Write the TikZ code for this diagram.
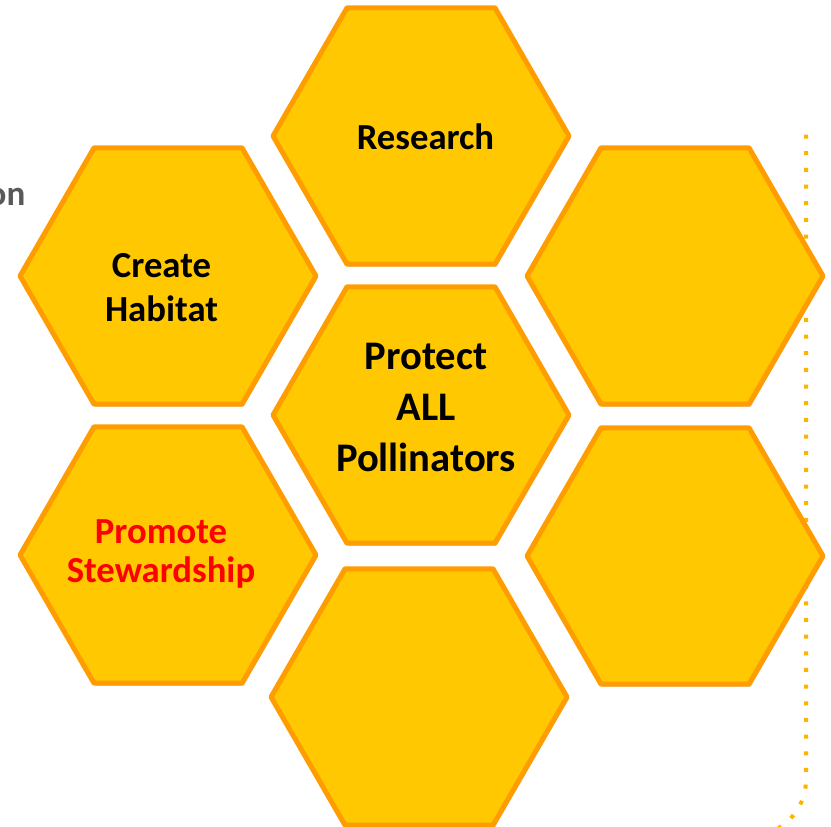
\documentclass[tikz,border=0pt]{standalone}
\usepackage{fontspec}
\setmainfont{Carlito}
\usetikzlibrary{shapes.geometric,shadows}
\definecolor{hexfill}{HTML}{FFC800}
\definecolor{hexline}{HTML}{FF9C00}
\definecolor{dotcol}{HTML}{FFB300}
\definecolor{graytxt}{HTML}{595959}
\definecolor{redtxt}{HTML}{FF0000}
\tikzset{
  hexa/.style={regular polygon, regular polygon sides=6,
    minimum size=296pt, inner sep=0pt, fill=hexfill, draw=hexline, line width=5pt,
    line join=round,
    drop shadow={shadow xshift=1.5pt, shadow yshift=-2.5pt, opacity=0.22, fill=black}},
  lbl/.style={anchor=base, inner sep=0pt, font=\bfseries\fontsize{36.7}{44}\selectfont},
  lblbig/.style={anchor=base, inner sep=0pt, font=\bfseries\fontsize{40.6}{49}\selectfont},
  dotline/.style={draw=dotcol, line width=4pt, dash pattern=on 4pt off 12.67pt}
}
\begin{document}
\begin{tikzpicture}[x=1pt,y=-1pt]
\useasboundingbox (0,0) rectangle (831,827);
% dotted line behind the hexagons
\coordinate (dtop) at (806,134.5);
\coordinate (dturn) at (806,780);
\coordinate (dend) at (775.2,830);
\draw[dotline] (dtop) -- (dturn) .. controls (806,801) and (794,820.4) .. (dend);
% cut-off text at left
\node[anchor=base east, inner sep=0pt, text=graytxt, font=\bfseries\fontsize{35}{42}\selectfont] (on) at (25.5,205) {on};
% hexagons
\node[hexa] (research) at (421,136) {};
\node[hexa] (habitat) at (168,276) {};
\node[hexa] (righttop) at (675,276) {};
\node[hexa] (protect) at (421,415) {};
\node[hexa] (steward) at (168,555) {};
\node[hexa] (rightbot) at (675,556) {};
\node[hexa] (bottom) at (419,697) {};
% labels
\node[lbl] (t1) at (425.5,149) {Research};
\node[lbl] (t2a) at (161.5,277) {Create};
\node[lbl] (t2b) at (161.5,321) {Habitat};
\node[lblbig] (t3a) at (426,369) {Protect};
\node[lblbig] (t3b) at (426,420) {ALL};
\node[lblbig] (t3c) at (426,471) {Pollinators};
\node[lbl, text=redtxt] (t4a) at (161,543) {Promote};
\node[lbl, text=redtxt] (t4b) at (161,582) {Stewardship};
\end{tikzpicture}
\end{document}
